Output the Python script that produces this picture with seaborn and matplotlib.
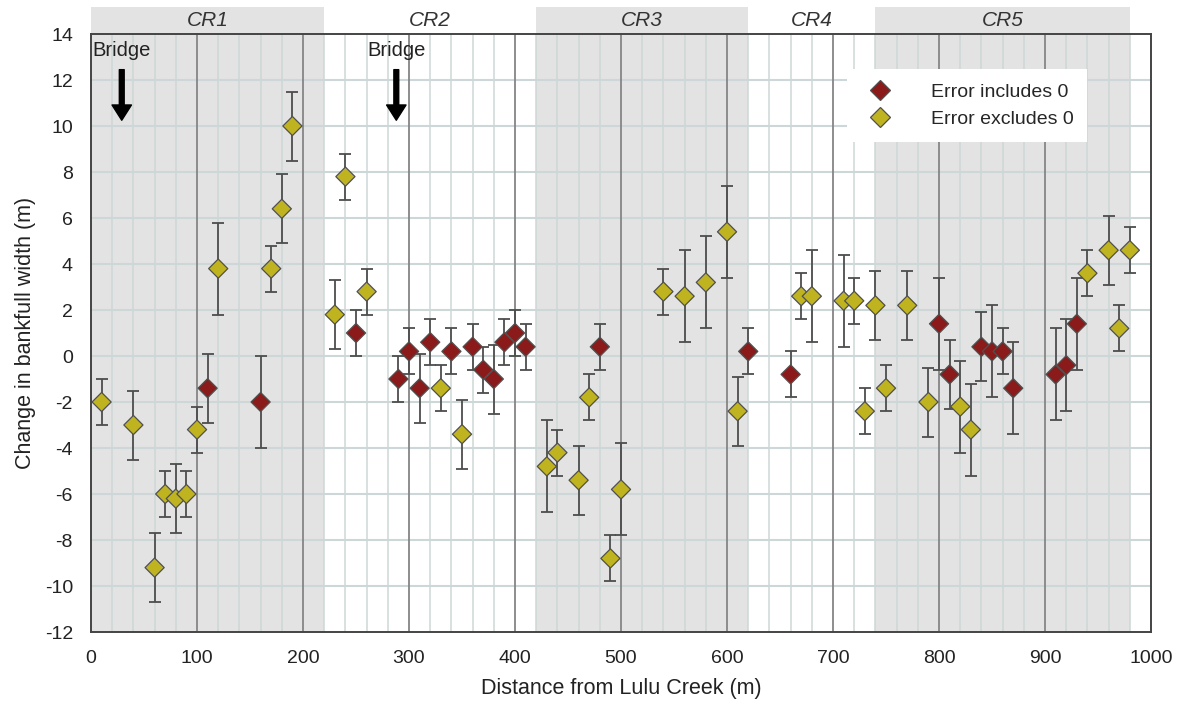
import numpy as np
import pandas as pd
import matplotlib
matplotlib.use('Agg')
import matplotlib.pyplot as plt
import matplotlib.transforms as mtransforms
from matplotlib.patches import Rectangle
from matplotlib.ticker import MultipleLocator
import seaborn as sns

# distance from Lulu Creek (m)
dist = [10, 40, 60, 70, 80, 90, 100, 110, 120, 160, 170, 180, 190,
        230, 240, 250, 260, 290, 300, 310, 320, 330, 340, 350, 360, 370, 380, 390, 400, 410,
        430, 440, 460, 470, 480, 490, 500, 540, 560, 580, 600, 610, 620,
        660, 670, 680, 710, 720, 730, 740, 750, 770, 790, 800, 810, 820, 830, 840, 850, 860,
        870, 910, 920, 930, 940, 960, 970, 980]
# change in bankfull width (m)
change = [-2, -3, -9.2, -6, -6.2, -6, -3.2, -1.4, 3.8, -2, 3.8, 6.4, 10,
          1.8, 7.8, 1.0, 2.8, -1.0, 0.2, -1.4, 0.6, -1.4, 0.2, -3.4, 0.4, -0.6, -1.0, 0.6, 1.0, 0.4,
          -4.8, -4.2, -5.4, -1.8, 0.4, -8.8, -5.8, 2.8, 2.6, 3.2, 5.4, -2.4, 0.2,
          -0.8, 2.6, 2.6, 2.4, 2.4, -2.4, 2.2, -1.4, 2.2, -2, 1.4, -0.8, -2.2, -3.2, 0.4, 0.2, 0.2,
          -1.4, -0.8, -0.4, 1.4, 3.6, 4.6, 1.2, 4.6]
# error (+/-)
err = [1, 1.5, 1.5, 1, 1.5, 1, 1, 1.5, 2, 2, 1, 1.5, 1.5,
       1.5, 1, 1, 1, 1, 1, 1.5, 1, 1, 1, 1.5, 1, 1, 1.5, 1, 1, 1,
       2, 1, 1.5, 1, 1, 1, 2, 1, 2, 2, 2, 1.5, 1,
       1, 1, 2, 2, 1, 1, 1.5, 1, 1.5, 1.5, 2, 1.5, 2, 2, 1.5, 2, 1,
       2, 2, 2, 2, 1, 1.5, 1, 1]
# I = error includes 0, E = error excludes 0
group = ['E', 'E', 'E', 'E', 'E', 'E', 'E', 'I', 'E', 'I', 'E', 'E', 'E',
         'E', 'E', 'I', 'E', 'I', 'I', 'I', 'I', 'E', 'I', 'E', 'I', 'I', 'I', 'I', 'I', 'I',
         'E', 'E', 'E', 'E', 'I', 'E', 'E', 'E', 'E', 'E', 'E', 'E', 'I',
         'I', 'E', 'E', 'E', 'E', 'E', 'E', 'E', 'E', 'E', 'I', 'I', 'E', 'E', 'I', 'I', 'I',
         'I', 'I', 'I', 'I', 'E', 'E', 'E', 'E']
group_names = {'I': 'Error includes 0', 'E': 'Error excludes 0'}

# reaches
reach_names = ['CR1', 'CR2', 'CR3', 'CR4', 'CR5']
reach_start = [0, 220, 420, 620, 740]
reach_end = [220, 420, 620, 740, 980]
reach_shaded = [True, False, True, False, True]

bridge_x = [29, 288]

df = pd.DataFrame({'dist': dist, 'change': change, 'err': err,
                   'group': [group_names[g] for g in group]})

sns.set_style('white')
plt.rcParams['font.family'] = ['Liberation Sans', 'DejaVu Sans']
plt.rcParams['axes.unicode_minus'] = False

fig = plt.figure(figsize=(11.82, 7.13), dpi=100)
ax = fig.add_axes([0.077, 0.1136, 0.8968, 0.8387])

shade = '#e3e3e3'
for s, e, sh in zip(reach_start, reach_end, reach_shaded):
    if sh:
        ax.axvspan(s, e, color=shade, lw=0, zorder=0)

# grid
for xv in np.arange(20, 1000, 20):
    if xv % 100 == 0:
        ax.axvline(xv, color='#858585', lw=1.3, zorder=1)
    else:
        ax.axvline(xv, color='#cdd7d7', lw=1.1, zorder=0.5)
for yv in np.arange(-10, 14, 2):
    ax.axhline(yv, color='#cdd7d7', lw=1.5, zorder=0.5)

ax.errorbar(df['dist'], df['change'], yerr=df['err'], fmt='none',
            ecolor='#4d4d4d', elinewidth=1.3, capsize=4, capthick=1.3, zorder=2)
sns.scatterplot(data=df, x='dist', y='change', hue='group',
                hue_order=['Error includes 0', 'Error excludes 0'],
                palette=['#8b1a1a', '#bfb41f'], marker='D', s=95,
                edgecolor='#505050', linewidth=0.9, zorder=3, ax=ax)

ax.set_xlim(0, 1000)
ax.set_ylim(-12, 14)
ax.xaxis.set_major_locator(MultipleLocator(100))
ax.yaxis.set_major_locator(MultipleLocator(2))
ax.tick_params(axis='both', direction='out', length=7, width=1.4,
               color='#333333', labelsize=14, pad=6, labelcolor='#222222')
for sp in ax.spines.values():
    sp.set_color('#444444')
    sp.set_linewidth(1.4)
    sp.set_zorder(4)

ax.set_xlabel('Distance from Lulu Creek (m)', fontsize=15.5, color='#222222', labelpad=8)
ax.set_ylabel('Change in bankfull width (m)', fontsize=15.5, color='#222222', labelpad=6)

# reach header band
trans = mtransforms.blended_transform_factory(ax.transData, ax.transAxes)
for name, s, e, sh in zip(reach_names, reach_start, reach_end, reach_shaded):
    if sh:
        ax.add_patch(Rectangle((s, 1.0), e - s, 0.045, transform=trans,
                               facecolor=shade, edgecolor='none', clip_on=False, zorder=0))
    ax.text((s + e) / 2, 1.022, name, transform=trans, ha='center', va='center',
            fontsize=15, style='italic', color='#333333')

# bridges
for bx in bridge_x:
    ax.text(bx, 13.3, 'Bridge', ha='center', va='center', fontsize=14.5, color='#222222', zorder=5)
    ax.annotate('', xy=(bx, 10.25), xytext=(bx, 12.45),
                arrowprops=dict(width=3.5, headwidth=14, headlength=11,
                                facecolor='black', edgecolor='black'), zorder=5)

leg = ax.legend(title=None, loc='upper right', bbox_to_anchor=(0.949, 0.957),
                fontsize=14, frameon=True, fancybox=False, framealpha=1,
                edgecolor='white', handletextpad=1.6, borderpad=0.7,
                labelspacing=0.5, markerscale=1.0)
leg.get_frame().set_linewidth(0)
leg.set_zorder(6)

fig.savefig('out.png', dpi=100)
